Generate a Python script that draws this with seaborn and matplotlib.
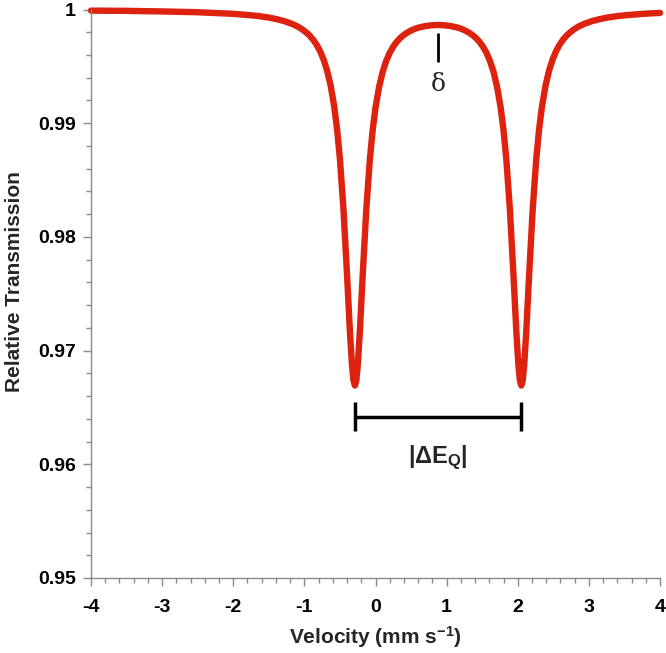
import matplotlib
matplotlib.use("Agg")
import numpy as np
import pandas as pd
import matplotlib.pyplot as plt
import seaborn as sns
from matplotlib.ticker import MultipleLocator, FuncFormatter

# Mössbauer doublet, values
velocity = [
    -4.00, -3.50, -3.00, -2.50, -2.00, -1.75, -1.64, -1.50, -1.39, -1.29,
    -1.18, -1.13, -1.08, -1.03, -0.98, -0.93, -0.88, -0.83, -0.78, -0.73,
    -0.68, -0.63, -0.58, -0.54, -0.50, -0.45, -0.40, -0.36, -0.33, -0.31,
    -0.29, -0.27, -0.25, -0.22, -0.18, -0.13, -0.08, -0.04, 0.00, 0.05,
    0.10, 0.15, 0.20, 0.25, 0.30, 0.35, 0.40, 0.45, 0.50, 0.55,
    0.60, 0.70, 0.80, 0.88, 0.96, 1.06, 1.16, 1.21, 1.26, 1.31,
    1.36, 1.41, 1.46, 1.51, 1.56, 1.61, 1.66, 1.71, 1.76, 1.80,
    1.84, 1.89, 1.94, 1.98, 2.01, 2.03, 2.05, 2.07, 2.09, 2.12,
    2.16, 2.21, 2.26, 2.30, 2.34, 2.39, 2.44, 2.49, 2.54, 2.59,
    2.64, 2.69, 2.74, 2.79, 2.84, 2.89, 2.94, 3.05, 3.15, 3.26,
    3.40, 3.51, 3.76, 4.00,
]
transmission = [
    0.99990, 0.99988, 0.99983, 0.99976, 0.99962, 0.99949, 0.99942, 0.99929, 0.99915, 0.99899,
    0.99875, 0.99861, 0.99845, 0.99825, 0.99801, 0.99773, 0.99737, 0.99692, 0.99635, 0.99560,
    0.99462, 0.99329, 0.99145, 0.98946, 0.98683, 0.98240, 0.97665, 0.97171, 0.96866, 0.96738,
    0.96693, 0.96737, 0.96865, 0.97169, 0.97662, 0.98236, 0.98677, 0.98938, 0.99136, 0.99318,
    0.99450, 0.99547, 0.99619, 0.99674, 0.99717, 0.99751, 0.99777, 0.99798, 0.99815, 0.99829,
    0.99840, 0.99854, 0.99862, 0.99864, 0.99862, 0.99854, 0.99840, 0.99829, 0.99815, 0.99798,
    0.99777, 0.99751, 0.99717, 0.99674, 0.99619, 0.99547, 0.99450, 0.99318, 0.99136, 0.98938,
    0.98677, 0.98236, 0.97662, 0.97169, 0.96865, 0.96737, 0.96693, 0.96738, 0.96866, 0.97171,
    0.97665, 0.98240, 0.98683, 0.98946, 0.99145, 0.99329, 0.99462, 0.99560, 0.99635, 0.99692,
    0.99737, 0.99773, 0.99801, 0.99825, 0.99845, 0.99861, 0.99875, 0.99899, 0.99915, 0.99929,
    0.99942, 0.99949, 0.99962, 0.99970,
]

x_ticks = [-4, -3, -2, -1, 0, 1, 2, 3, 4]
y_ticks = [0.95, 0.96, 0.97, 0.98, 0.99, 1.0]

# annotation anchors (data units)
dip_positions = [-0.29, 2.05]     # the two line centres
isomer_shift = 0.88               # delta, midpoint of the doublet
bracket_level = 0.9642
bracket_cap = 0.0013
delta_tick = [0.9954, 0.9979]
delta_label_y = 0.9934
dEq_label_y = 0.9606

RED = "#DD2210"
GREY = "#8a8a8a"

df = pd.DataFrame({"Velocity": velocity, "Transmission": transmission})

sns.set_style("ticks")
plt.rcParams["font.family"] = ["Liberation Sans", "DejaVu Sans"]
plt.rcParams["mathtext.fontset"] = "custom"
plt.rcParams["mathtext.rm"] = "Liberation Sans:bold"
plt.rcParams["mathtext.bf"] = "Liberation Sans:bold"
plt.rcParams["mathtext.it"] = "Liberation Sans:bold"

fig = plt.figure(figsize=(6.66, 6.53), dpi=100)
ax = fig.add_axes([91 / 666, 1 - 578 / 653, 569 / 666, (578 - 9.5) / 653])

sns.lineplot(data=df, x="Velocity", y="Transmission", ax=ax,
             color=RED, linewidth=4.6, estimator=None, sort=False)
for ln in ax.lines:
    ln.set_clip_on(False)
    ln.set_solid_joinstyle("round")
    ln.set_solid_capstyle("round")

ax.set_xlim(x_ticks[0], x_ticks[-1])
ax.set_ylim(y_ticks[0], y_ticks[-1])
ax.set_xticks(x_ticks)
ax.set_yticks(y_ticks)
ax.xaxis.set_minor_locator(MultipleLocator(0.2))
ax.yaxis.set_minor_locator(MultipleLocator(0.002))
ax.yaxis.set_major_formatter(FuncFormatter(lambda v, p: f"{v:g}"))
ax.xaxis.set_major_formatter(FuncFormatter(lambda v, p: f"{v:g}"))

sns.despine(ax=ax)
for side in ["left", "bottom"]:
    ax.spines[side].set_color(GREY)
    ax.spines[side].set_linewidth(1.0)
ax.tick_params(which="major", length=6, width=1.0, color=GREY,
               labelsize=14, labelcolor="black")
ax.tick_params(which="minor", length=3.5, width=1.0, color=GREY)
ax.tick_params(axis="x", which="major", pad=9)
ax.tick_params(axis="y", which="major", pad=5)
for lab in ax.get_xticklabels() + ax.get_yticklabels():
    lab.set_fontweight("bold")

ax.set_xlabel("")
ax.set_ylabel("")
fig.text(375 / 666, 1 - 637 / 653, r"Velocity (mm s$^{-1}$)",
         ha="center", va="center", fontsize=15, fontweight="bold")
fig.text(15 / 666, 1 - 282 / 653, "Relative Transmission", rotation=90,
         ha="center", va="center", fontsize=15, fontweight="bold")

# delta marker
ax.plot([isomer_shift, isomer_shift], delta_tick, color="black",
        linewidth=2.0, solid_capstyle="butt")
ax.text(isomer_shift, delta_label_y, "δ", ha="center", va="center",
        fontsize=18, family=["DejaVu Serif"])

# quadrupole splitting bracket
ax.plot(dip_positions, [bracket_level, bracket_level], color="black",
        linewidth=2.5, solid_capstyle="butt")
for xp in dip_positions:
    ax.plot([xp, xp], [bracket_level - bracket_cap, bracket_level + bracket_cap],
            color="black", linewidth=2.5, solid_capstyle="butt")
ax.text(np.mean(dip_positions), dEq_label_y, r"$|\Delta E_{Q}|$",
        ha="center", va="center", fontsize=17)

fig.savefig("out.png", dpi=100)
